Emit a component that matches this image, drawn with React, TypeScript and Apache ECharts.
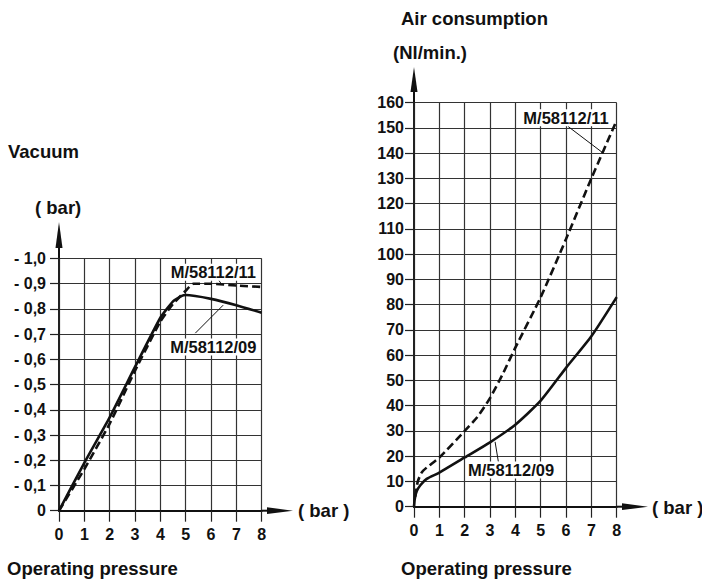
import React, { useEffect, useRef } from "react";
import * as echarts from "echarts";

// ---- data ----
const pressureTicks = [0, 1, 2, 3, 4, 5, 6, 7, 8];
const vacuumTicks = [0, 0.1, 0.2, 0.3, 0.4, 0.5, 0.6, 0.7, 0.8, 0.9, 1.0];
const airTicks = [0, 10, 20, 30, 40, 50, 60, 70, 80, 90, 100, 110, 120, 130, 140, 150, 160];

const vacuum09: number[][] = [
  [0, 0], [1, 0.19], [2, 0.37], [3, 0.57], [4, 0.765], [4.5, 0.83], [4.85, 0.852], [5, 0.855], [6, 0.84], [7, 0.815], [8, 0.785],
];
const vacuum11: number[][] = [
  [0, 0], [1, 0.165], [2, 0.345], [3, 0.555], [4, 0.75], [4.5, 0.82], [5, 0.872], [5.3, 0.9], [6, 0.9], [7, 0.893], [8, 0.887],
];
const air09: number[][] = [
  [0, 0], [0.03, 3], [0.1, 6], [0.25, 8.5], [0.5, 11], [1, 13.5], [2, 19.5], [3, 25.5], [4, 32.5], [5, 42], [6, 55], [7, 67.5], [8, 83],
];
const air11: number[][] = [
  [0.05, 4], [0.15, 10], [0.3, 13.5], [0.5, 15.5], [1, 19.5], [2, 30], [2.5, 35.5], [3, 43], [3.5, 52.5], [4, 63], [5, 83], [6, 106], [7, 130], [8, 153],
];

const label09 = "M/58112/09";
const label11 = "M/58112/11";

const FONT = "'Liberation Sans', Arial, Helvetica, sans-serif";

function fmtVacuum(v: number): string {
  const r = Math.round(v * 10) / 10;
  if (r === 0) return "0";
  return "- " + r.toFixed(1).replace(".", ",");
}

function curveLabel(text: string, coord: number[]) {
  return {
    symbol: "rect",
    symbolSize: 1,
    itemStyle: { color: "rgba(0,0,0,0)" },
    label: {
      show: true,
      position: "inside",
      formatter: text,
      color: "#111",
      fontFamily: FONT,
      fontWeight: "bold",
      fontSize: 16.5,
      backgroundColor: "#fff",
      padding: [0, 1],
    },
    data: [{ coord }],
  };
}

function leader(a: number[], b: number[]) {
  return {
    silent: true,
    symbol: "none",
    lineStyle: { color: "#111", width: 1, type: "solid" },
    label: { show: false },
    data: [[{ coord: a }, { coord: b }]],
  };
}

export default function App() {
  const ref = useRef<HTMLDivElement>(null);
  useEffect(() => {
    if (!ref.current) return;
    const chart = echarts.init(ref.current, null, { renderer: "svg" });

    const axisText = { color: "#111", fontFamily: FONT, fontWeight: "bold", fontSize: 16 };
    const split = { show: true, lineStyle: { color: "#333", width: 1.2 } };
    const axisLine = { show: true, onZero: false, lineStyle: { color: "#111", width: 2 } };

    const xBase = (gridIndex: number, margin: number) => ({
      type: "value",
      gridIndex,
      min: 0,
      max: 8,
      interval: 1,
      axisLine,
      axisTick: { show: true, length: 11, lineStyle: { color: "#222", width: 1.2 } },
      axisLabel: { ...axisText, margin },
      splitLine: split,
    });

    const titleStyle = { color: "#111", fontFamily: FONT, fontWeight: "bold", fontSize: 18.5 };

    const option: any = {
      animation: false,
      backgroundColor: "#fff",
      title: [
        { text: "Vacuum", left: 8, top: 142, textStyle: titleStyle, padding: 0 },
        { text: "( bar)", left: 35, top: 198, textStyle: titleStyle, padding: 0 },
        { text: "Operating pressure", left: 7, top: 559, textStyle: titleStyle, padding: 0 },
        { text: "( bar )", left: 298, top: 501, textStyle: titleStyle, padding: 0 },
        { text: "Air consumption", left: 401, top: 9, textStyle: titleStyle, padding: 0 },
        { text: "(Nl/min.)", left: 393, top: 43, textStyle: titleStyle, padding: 0 },
        { text: "Operating pressure", left: 401, top: 559, textStyle: titleStyle, padding: 0 },
        { text: "( bar )", left: 652, top: 498, textStyle: titleStyle, padding: 0 },
      ],
      grid: [
        { left: 59, right: 440.3, top: 258.5, bottom: 73.3 },
        { left: 414, right: 85.3, top: 102.7, bottom: 77.3 },
      ],
      xAxis: [xBase(0, 16), xBase(1, 16)],
      yAxis: [
        {
          type: "value",
          gridIndex: 0,
          min: 0,
          max: 1,
          interval: 0.1,
          axisLine,
          axisTick: { show: true, length: 9, lineStyle: { color: "#222", width: 1.2 } },
          axisLabel: { ...axisText, margin: 13, formatter: fmtVacuum },
          splitLine: split,
        },
        {
          type: "value",
          gridIndex: 1,
          min: 0,
          max: 160,
          interval: 10,
          axisLine,
          axisTick: { show: true, length: 9, lineStyle: { color: "#222", width: 1.2 } },
          axisLabel: { ...axisText, margin: 10 },
          splitLine: split,
        },
        {
          type: "value", gridIndex: 0, position: "right", min: 0, max: 1,
          axisLine: { show: true, lineStyle: { color: "#222", width: 2 } },
          axisTick: { show: false }, axisLabel: { show: false }, splitLine: { show: false },
        },
        {
          type: "value", gridIndex: 1, position: "right", min: 0, max: 160,
          axisLine: { show: true, lineStyle: { color: "#222", width: 2 } },
          axisTick: { show: false }, axisLabel: { show: false }, splitLine: { show: false },
        },
      ],
      series: [
        {
          name: label09 + " vac",
          type: "line",
          xAxisIndex: 0,
          yAxisIndex: 0,
          data: vacuum09,
          smooth: 0.15,
          symbol: "none",
          lineStyle: { color: "#111", width: 2.6 },
          markPoint: curveLabel(label09, [6.09, 0.649]),
          markLine: leader([5.38, 0.704], [6.48, 0.815]),
        },
        {
          name: label11 + " vac",
          type: "line",
          xAxisIndex: 0,
          yAxisIndex: 0,
          data: vacuum11,
          smooth: 0.15,
          symbol: "none",
          lineStyle: { color: "#111", width: 2.6, type: [8, 4] },
          markPoint: curveLabel(label11, [6.09, 0.945]),
          markLine: leader([6.25, 0.922], [6.4, 0.9]),
        },
        {
          name: label09 + " air",
          type: "line",
          xAxisIndex: 1,
          yAxisIndex: 1,
          data: air09,
          smooth: 0.2,
          symbol: "none",
          lineStyle: { color: "#111", width: 2.6 },
          markPoint: curveLabel(label09, [3.83, 14.5]),
          markLine: leader([3.33, 17.8], [3.2, 25.7]),
        },
        {
          name: label11 + " air",
          type: "line",
          xAxisIndex: 1,
          yAxisIndex: 1,
          data: air11,
          smooth: 0.2,
          symbol: "none",
          lineStyle: { color: "#111", width: 2.6, type: [8, 4] },
          markPoint: curveLabel(label11, [6.0, 154]),
          markLine: leader([6.08, 150.6], [7.42, 140.4]),
        },
      ],
      graphic: [
        // left y arrow
        { type: "line", shape: { x1: 59, y1: 259, x2: 59, y2: 246 }, style: { stroke: "#111", lineWidth: 2 } },
        { type: "polygon", shape: { points: [[55.5, 248], [59, 222], [62.5, 248]] }, style: { fill: "#111" } },
        // left x arrow
        { type: "line", shape: { x1: 261, y1: 510.7, x2: 269, y2: 510.7 }, style: { stroke: "#111", lineWidth: 2 } },
        { type: "polygon", shape: { points: [[267, 507.3], [293, 510.7], [267, 514.1]] }, style: { fill: "#111" } },
        // right y arrow
        { type: "line", shape: { x1: 414, y1: 103.5, x2: 414, y2: 90 }, style: { stroke: "#111", lineWidth: 2 } },
        { type: "polygon", shape: { points: [[410.5, 92], [414, 67], [417.5, 92]] }, style: { fill: "#111" } },
        // right x arrow
        { type: "line", shape: { x1: 616, y1: 506.7, x2: 624, y2: 506.7 }, style: { stroke: "#111", lineWidth: 2 } },
        { type: "polygon", shape: { points: [[622, 503.3], [648, 506.7], [622, 510.1]] }, style: { fill: "#111" } },
      ],
    };

    chart.setOption(option);
    return () => chart.dispose();
  }, []);

  return (
    <div
      ref={ref}
      style={{ position: "fixed", left: 0, top: 0, width: 702, height: 584, background: "#fff" }}
    />
  );
}
